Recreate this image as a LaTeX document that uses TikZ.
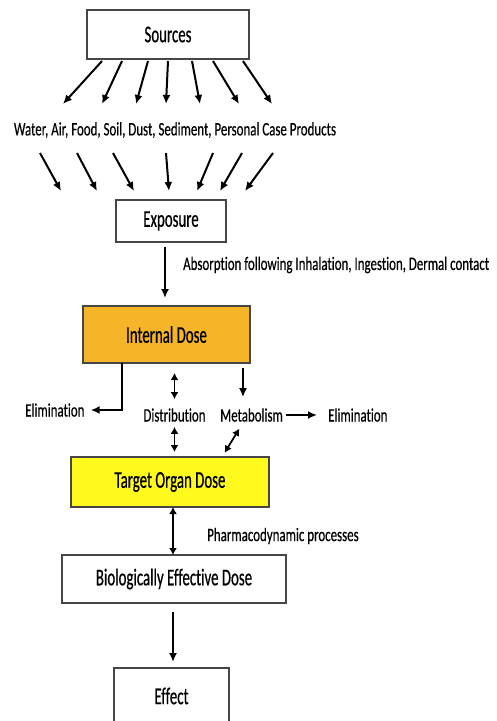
\documentclass[tikz,border=0pt]{standalone}
\usepackage{fontspec}
\setmainfont{Carlito}
\newfontfamily\boxfont[FakeStretch=0.62,FakeBold=0.5,Ligatures=NoCommon]{Carlito}
\newfontfamily\labfont[FakeStretch=0.68,FakeBold=0.4,Ligatures=NoCommon]{Carlito}
\usetikzlibrary{arrows.meta,calc}
\definecolor{DoseOrange}{RGB}{246,180,40}
\definecolor{OrganYellow}{RGB}{255,250,30}
\definecolor{EdgeGray}{RGB}{70,70,70}
\tikzset{
  stage/.style={draw=EdgeGray,line width=1.2pt,fill=white,inner sep=0pt,
    outer sep=0pt,font=\boxfont\fontsize{24}{28}\selectfont},
  lab/.style={inner sep=0pt,font=\labfont\fontsize{19}{22}\selectfont},
  arrow/.style={-{Latex[length=9pt,width=8pt]},line width=2pt},
  twoway/.style={{Latex[length=7pt,width=8pt]}-{Latex[length=7pt,width=8pt]},
    line width=1.8pt}
}

\begin{document}
\begin{tikzpicture}[x=1pt,y=-1pt]
\useasboundingbox (0,0) rectangle (496,721);
\clip (0,0) rectangle (496,721);

% boxes
\node[stage,minimum width=162pt,minimum height=49pt] (src) at (168,34.5) {Sources};
\node[stage,minimum width=110pt,minimum height=42pt] (expo) at (171,221) {Exposure};
\node[stage,fill=DoseOrange,minimum width=167pt,minimum height=57pt] (intd)
  at (166.5,334.5) {Internal Dose};
\node[stage,fill=OrganYellow,minimum width=198pt,minimum height=50pt] (tgt)
  at (170,482) {Target Organ Dose};
\node[stage,minimum width=224pt,minimum height=48pt] (bed) at (174,579)
  {Biologically Effective Dose};
\node[stage,minimum width=115pt,minimum height=56pt] (eff) at (171.5,696) {Effect};

% labels
\node[lab] (media) at (175,130)
  {Water, Air, Food, Soil, Dust, Sediment, Personal Case Products};
\node[lab,anchor=west] (absorb) at (183,265)
  {Absorption following Inhalation, Ingestion, Dermal contact};
\node[lab,anchor=west] (elimL) at (25,410) {Elimination};
\node[lab] (dist) at (174.5,415) {Distribution};
\node[lab,anchor=west] (metab) at (220,415) {Metabolism};
\node[lab,anchor=west] (elimR) at (328,415) {Elimination};
\node[lab,anchor=west] (pharma) at (207,536) {Pharmacodynamic processes};

% sources fan out to the media
\foreach \s/\e [count=\i] in {15/63,35/102,61/136,81/166,105/200,126/239,156/272}{
  \coordinate (up\i) at (\e,104);
  \draw[arrow] ($(src.south west)+(\s,2)$) -- (up\i);
}
% media fan in to exposure
\foreach \s/\e [count=\i] in {40/-55,77/-19,113/18,166/53,213/81,242/104,273/129}{
  \coordinate (dn\i) at (\s,153);
  \draw[arrow] (dn\i) -- ($(expo.north west)+(\e,-9)$);
}

\draw[arrow] ([xshift=-6pt,yshift=-5pt]expo.south)
  -- ([xshift=-1.5pt,yshift=8pt]intd.north);

% internal dose
\draw[arrow,shorten >=6pt] ([xshift=39pt]intd.south west) |- (elimL.east);
\draw[twoway,shorten <=10pt,shorten >=9pt] (intd.south -| dist) -- (dist.north);
\draw[twoway,shorten <=5pt,shorten >=5pt] (dist.south) -- (tgt.north -| dist);
\coordinate (mtop) at ([xshift=-7pt]intd.south east);
\draw[arrow,shorten <=5pt,shorten >=11pt] (mtop) -- (mtop |- metab.north);
\draw[arrow,shorten <=3pt,shorten >=11pt] (metab.east) -- (elimR.west);
\draw[twoway,shorten <=8pt,shorten >=5pt] ([xshift=-8pt]metab.south)
  -- ([xshift=52pt]tgt.north);

% down to the effect
\draw[twoway] ([xshift=3pt]tgt.south) -- ([xshift=-1pt]bed.north);
\draw[arrow] ([xshift=-1pt,yshift=-9pt]bed.south)
  -- ([xshift=1.5pt,yshift=6pt]eff.north);

\end{tikzpicture}
\end{document}
